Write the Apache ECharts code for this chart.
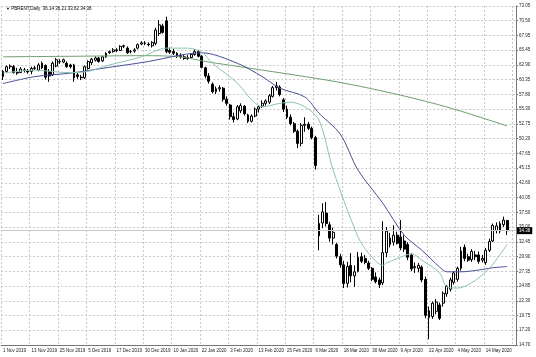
<!DOCTYPE html>
<html><head><meta charset="utf-8">
<script src="https://cdn.jsdelivr.net/npm/echarts@6/dist/echarts.min.js"></script>
<style>html,body{margin:0;padding:0;background:#fff}#c{width:536px;height:357px}</style>
</head><body><div id="c"></div>
<script>
// trading days shown on the chart, grouped by month
const tradingDays = [
  ['Nov 2019', [1,4,5,6,7,8,11,12,13,14,15,18,19,20,21,22,25,26,27,28,29]],
  ['Dec 2019', [2,3,4,5,6,9,10,11,12,13,16,17,18,19,20,23,24,26,27,30,31]],
  ['Jan 2020', [2,3,6,7,8,9,10,13,14,15,16,17,20,21,22,23,24,27,28,29,30,31]],
  ['Feb 2020', [3,4,5,6,7,10,11,12,13,14,17,18,19,20,21,24,25,26,27,28]],
  ['Mar 2020', [2,3,4,5,6,9,10,11,12,13,16,17,18,19,20,23,24,25,26,27,30,31]],
  ['Apr 2020', [1,2,3,6,7,8,9,13,14,15,16,17,20,21,22,23,24,27,28,29,30]],
  ['May 2020', [1,4,5,6,7,8,11,12,13,14,15,18,19,20,21,22]]
];
const openV = [60.9,61.8,62.6,62.6,61.6,61.6,62.0,61.9,61.8,62.3,62.0,62.4,62.8,61.8,61.2,62.7,63.5,63.4,63.2,62.9,62.9,61.2,60.8,60.7,62.3,63.3,63.7,64.1,63.6,64.3,65.0,65.2,65.5,65.4,66.1,65.8,65.2,65.3,65.8,66.5,66.7,66.5,66.2,66.6,68.3,69.6,70.5,
  65.4,65.2,64.9,64.5,64.3,64.0,64.2,64.7,65.2,64.4,62.4,61.0,59.6,58.3,58.8,58.9,57.0,56.0,54.0,53.6,55.0,55.8,54.3,53.2,54.1,55.3,55.8,56.3,56.5,57.5,59.0,59.1,56.9,55.3,53.9,52.8,51.5,49.4,52.5,52.7,52.0,50.4,
  35.6,35.7,37.4,35.4,33.1,32.0,29.9,28.5,25.3,28.4,26.6,27.4,29.9,29.6,28.8,27.9,26.4,25.9,25.4,30.6,32.0,32.4,33.6,33.3,32.6,32.0,30.2,28.0,27.9,28.1,26.0,19.4,19.6,20.5,21.6,21.9,23.5,24.3,25.5,26.0,27.9,31.5,29.9,29.4,30.2,30.2,29.3,28.9,31.0,32.6,34.4,34.3,35.4,36.14];
const highV = [62.0,62.8,63.0,62.9,62.4,62.5,62.4,62.2,62.6,62.7,63.2,63.5,63.0,62.2,63.5,64.1,63.9,64.0,63.5,63.1,63.1,61.5,61.2,62.8,63.7,64.1,64.4,64.3,64.5,65.1,65.4,65.8,65.8,66.3,66.4,66.1,65.5,65.8,66.6,67.0,67.0,66.8,67.0,69.3,70.6,70.0,71.2,
  65.9,65.7,65.1,64.9,64.6,64.6,64.9,65.6,65.5,64.6,62.6,61.5,59.9,59.2,59.4,59.1,57.5,56.2,54.7,56.0,56.3,56.0,54.5,54.4,55.6,56.0,56.8,57.0,57.9,59.3,60.0,59.4,57.2,55.9,54.4,53.1,51.8,52.9,53.9,53.1,52.3,50.7,
  37.1,39.1,39.3,35.9,34.9,32.3,30.4,29.2,29.0,30.5,28.4,30.7,30.6,30.2,29.2,28.1,27.2,26.3,36.0,35.0,34.0,35.3,34.2,36.2,33.6,32.4,30.5,28.9,28.8,28.4,26.5,21.3,22.2,22.6,22.0,23.9,25.0,26.3,27.4,28.2,31.6,32.0,30.4,31.2,30.9,30.8,30.2,31.4,33.0,35.6,35.8,36.0,36.8,36.21];
const lowV = [60.3,61.6,62.2,61.4,61.2,61.5,61.6,61.4,61.3,62.0,61.8,62.2,60.4,60.0,61.0,62.5,63.1,63.2,62.4,62.3,60.0,60.5,60.3,60.5,62.1,62.9,63.5,63.3,63.4,64.1,64.8,65.0,65.1,65.3,65.8,64.8,64.9,65.0,65.6,66.3,66.3,66.1,65.9,66.3,67.9,68.3,64.9,
  64.8,64.6,64.1,64.0,63.8,63.8,64.0,64.5,64.2,62.3,60.6,59.7,58.0,57.9,58.3,56.6,55.9,53.5,53.0,53.4,54.6,54.2,52.9,53.0,53.9,54.7,55.5,55.9,56.2,57.3,58.5,57.5,54.8,53.6,52.5,51.2,48.6,48.9,51.4,51.7,50.1,44.9,
  31.0,34.8,35.1,32.5,32.0,29.6,28.0,24.5,24.6,25.5,24.7,27.2,28.8,28.6,27.6,25.7,25.3,24.5,25.0,29.8,31.5,31.8,32.0,31.0,30.7,29.3,27.4,27.1,27.2,25.5,19.3,15.7,19.2,20.0,19.0,21.3,23.0,23.9,25.1,25.6,27.5,29.1,29.0,29.0,29.3,28.7,28.9,28.5,30.7,32.4,33.9,33.9,35.0,33.62];
const closeV = [61.8,62.6,62.7,61.6,61.5,62.2,62.05,61.7,62.3,62.4,62.9,63.2,60.8,61.0,63.2,63.8,63.45,63.8,62.6,62.6,60.7,60.9,60.7,62.6,63.5,63.9,64.1,63.5,64.3,64.9,65.2,65.5,65.4,66.1,66.2,65.0,65.2,65.5,66.4,66.7,66.6,66.4,66.8,68.9,69.8,68.5,65.2,
  65.1,64.9,64.4,64.3,64.0,64.2,64.7,65.2,64.4,62.5,61.0,60.1,58.3,58.8,59.0,57.0,56.3,54.0,53.5,55.7,55.9,54.5,53.2,54.1,55.3,55.7,56.3,56.7,57.6,59.0,59.3,57.8,55.3,53.9,52.8,51.5,49.4,52.5,52.7,52.0,50.4,45.6,
  33.5,37.6,35.6,33.1,34.1,30.0,28.5,25.3,28.2,26.6,27.3,29.8,29.1,28.9,27.9,26.0,25.6,25.1,30.6,34.3,33.1,33.6,32.2,31.4,31.2,29.8,27.8,28.2,28.4,25.9,19.8,20.6,21.9,22.1,19.3,23.6,24.8,25.9,27.1,27.9,30.9,29.6,29.3,30.8,29.9,29.1,29.6,31.0,32.5,35.3,35.2,35.6,36.2,34.38];
// moving averages read at sample bars (bar index, value)
const maSlowIdx = [0,20,40,50,57,70,94,112,126,142];
const maSlow    = [64.3,64.4,64.5,64.3,63.5,62.3,60.0,57.7,55.5,52.4];
const maMidIdx  = [0,9,19,30,41,50,56,66,73,78,85,89,95,100,107,113,118,123,125,129,134,138,142];
const maMid     = [59.7,60.9,61.5,62.5,63.5,64.6,65.0,63.2,60.9,58.9,57.4,54.6,51.0,44.8,39.1,33.6,31.0,28.1,27.3,27.3,27.6,28.0,28.2];
const maFastIdx = [0,9,18,23,30,39,46,52,56,59,66,70,73,78,81,85,89,93,100,103,107,108,112,115,118,123,125,128,132,137,142];
const maFast    = [61.5,62.0,61.6,61.7,62.9,64.3,65.8,65.8,65.1,63.2,59.8,56.9,55.7,56.3,56.5,55.7,53.4,44.8,33.3,30.5,28.4,28.8,29.8,30.4,29.3,27.1,24.7,24.5,25.4,27.9,32.0];
const priceLabels = ['14.70','17.20','19.75','22.30','24.85','27.35','29.90','32.45','35.00','37.50','40.05','42.60','45.15','47.65','50.20','52.75','55.30','57.80','60.35','62.90','65.45','67.95','70.50','73.05'];

const dates = [];
tradingDays.forEach(([m, days]) => days.forEach(d => dates.push(d + ' ' + m)));
const cats = dates.concat(['', '']);
const N = dates.length, last = N - 1;
const candles = openV.map((o, i) => [o, closeV[i], lowV[i], highV[i]]);
const pairs = (idx, val) => idx.map((x, i) => [x, val[i]]);
const fam = 'Liberation Sans';

const chart = echarts.init(document.getElementById('c'), null, {renderer: 'canvas'});
chart.setOption({
  animation: false,
  backgroundColor: '#fff',
  textStyle: {fontFamily: fam},
  title: {
    text: '{t|▼} PBRENT,Daily  ' + [openV[last], highV[last], lowV[last], closeV[last]].map(v => v.toFixed(2)).join(' '),
    left: 1, top: 1,
    textStyle: {fontSize: 4.5, fontWeight: 'normal', color: '#000', fontFamily: fam, rich: {t: {fontSize: 4, color: '#000'}}}
  },
  grid: {left: 0, right: 20, top: 6, bottom: 12},
  xAxis: {
    type: 'category', data: cats, boundaryGap: true,
    axisLine: {lineStyle: {color: '#777', width: 1}},
    axisTick: {interval: 7, length: 2, lineStyle: {color: '#777'}},
    axisLabel: {interval: 7, align: 'left', fontSize: 4.5, color: '#222', margin: 3, fontFamily: fam},
    splitLine: {show: true, interval: 7, lineStyle: {type: [2, 2], color: '#c8c8c8', width: 1}}
  },
  yAxis: [
    {type: 'value', min: 14.70, max: 73.05, show: false, position: 'right'},
    {type: 'value', min: 0, max: 23, interval: 1, position: 'right',
     axisLine: {show: true, lineStyle: {color: '#777'}},
     axisTick: {show: true, length: 2, lineStyle: {color: '#777'}},
     axisLabel: {fontSize: 4.5, color: '#222', margin: 3, fontFamily: fam, formatter: v => priceLabels[v] || ''},
     splitLine: {show: true, lineStyle: {type: [2, 2], color: '#c8c8c8', width: 1}}}
  ],
  series: [
    {type: 'candlestick', data: candles, yAxisIndex: 0, barWidth: 2.4,
     itemStyle: {color: '#fff', color0: '#000', borderColor: '#000', borderColor0: '#000', borderWidth: 1},
     markLine: {silent: true, symbol: 'none', animation: false, data: [{yAxis: closeV[last]}],
       lineStyle: {color: '#c8c8c8', type: 'solid', width: 1},
       label: {show: true, position: 'end', formatter: closeV[last].toFixed(2), color: '#fff', backgroundColor: '#000',
               fontSize: 4.5, padding: [1, 2], distance: 1, fontFamily: fam}}},
    {type: 'line', name: 'slow', data: pairs(maSlowIdx, maSlow), yAxisIndex: 0, showSymbol: false, smooth: 0.3, silent: true,
     lineStyle: {color: '#6f9f6f', width: 1}},
    {type: 'line', name: 'mid', data: pairs(maMidIdx, maMid), yAxisIndex: 0, showSymbol: false, smooth: 0.3, silent: true,
     lineStyle: {color: '#4a4f9a', width: 1}},
    {type: 'line', name: 'fast', data: pairs(maFastIdx, maFast), yAxisIndex: 0, showSymbol: false, smooth: 0.3, silent: true,
     lineStyle: {color: '#8cc4b0', width: 1}}
  ]
});
</script></body></html>
